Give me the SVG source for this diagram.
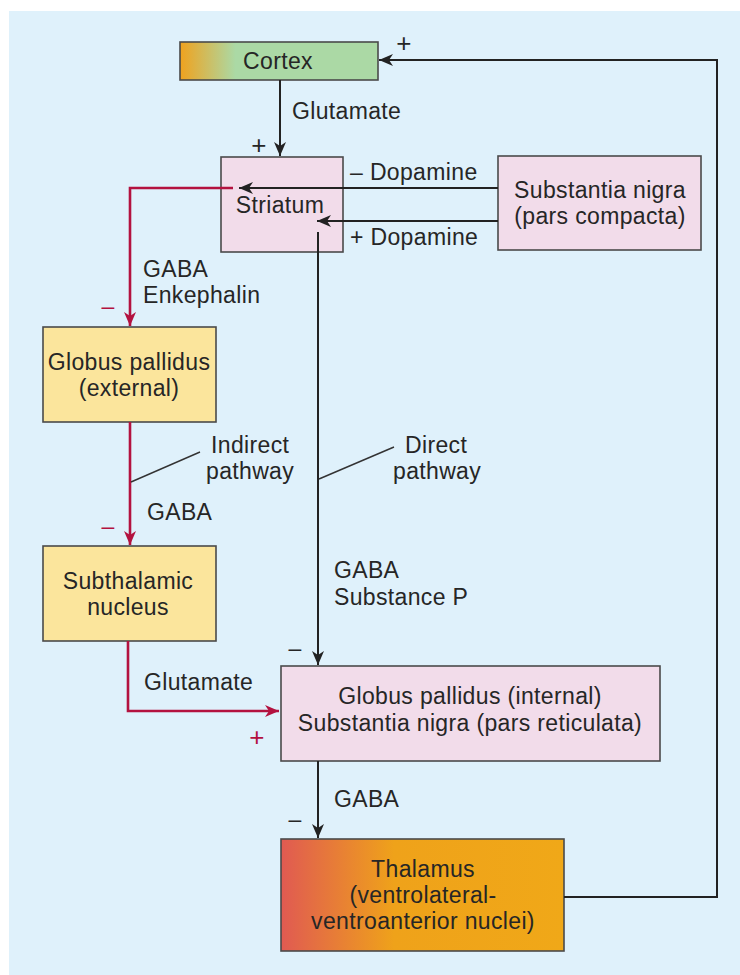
<svg xmlns="http://www.w3.org/2000/svg" width="740" height="975" viewBox="0 0 740 975">
<style>
text{font-family:"Liberation Sans",Arial,sans-serif;font-size:23px;fill:#262626;letter-spacing:0.35px}
.c{text-anchor:middle}
.box{stroke:#4a4a4a;stroke-width:1.6}
.pink{fill:#f2dcea}
.yel{fill:#fbe59c}
.k{fill:none;stroke:#222;stroke-width:2}
.r{fill:none;stroke:#b3123f;stroke-width:2.6}
.lbl{fill:none;stroke:#333;stroke-width:1.4}
.rs{fill:#b3123f}
.pl{font-size:26px}
</style>
<defs>
<linearGradient id="gc" x1="0" x2="1" y1="0" y2="0">
<stop offset="0" stop-color="#f0a21e"/>
<stop offset="0.28" stop-color="#abd9a5"/>
<stop offset="1" stop-color="#abd9a5"/>
</linearGradient>
<linearGradient id="gt" x1="0" x2="1" y1="0" y2="0">
<stop offset="0" stop-color="#e05a52"/>
<stop offset="0.4" stop-color="#efa21a"/>
<stop offset="1" stop-color="#f0a818"/>
</linearGradient>
<marker id="ak" markerUnits="userSpaceOnUse" markerWidth="16" markerHeight="14" refX="14" refY="6" orient="auto">
<path d="M0,0 L14,6 L0,12 L4,6 z" fill="#222"/>
</marker>
<marker id="ar" markerUnits="userSpaceOnUse" markerWidth="16" markerHeight="14" refX="14" refY="6" orient="auto">
<path d="M0,0 L14,6 L0,12 L4,6 z" fill="#b3123f"/>
</marker>
</defs>
<rect x="9" y="11" width="731" height="964" fill="#dff1fb"/>

<g id="cortex">
<rect class="box" x="180" y="42" width="198" height="38" fill="url(#gc)"/>
<text class="c" x="278" y="69">Cortex</text>
</g>
<g id="striatum">
<rect class="box pink" x="221" y="157" width="122" height="95"/>
<text class="c" x="280" y="213">Striatum</text>
</g>
<g id="snc">
<rect class="box pink" x="498" y="156" width="203" height="94"/>
<text class="c" x="600" y="198">Substantia nigra</text>
<text class="c" x="600" y="224">(pars compacta)</text>
</g>
<g id="gpe">
<rect class="box yel" x="43" y="327" width="173" height="95"/>
<text class="c" x="129" y="370">Globus pallidus</text>
<text class="c" x="129" y="396">(external)</text>
</g>
<g id="stn">
<rect class="box yel" x="43" y="546" width="173" height="95"/>
<text class="c" x="128" y="589">Subthalamic</text>
<text class="c" x="128" y="615">nucleus</text>
</g>
<g id="gpi">
<rect class="box pink" x="281" y="666" width="379" height="95"/>
<text class="c" x="470" y="704">Globus pallidus (internal)</text>
<text class="c" x="470" y="731">Substantia nigra (pars reticulata)</text>
</g>
<g id="thalamus">
<rect class="box" x="281" y="839" width="283" height="112" fill="url(#gt)"/>
<text class="c" x="423" y="877">Thalamus</text>
<text class="c" x="423" y="903">(ventrolateral-</text>
<text class="c" x="423" y="929">ventroanterior nuclei)</text>
</g>

<g id="connectors">
<path class="k" d="M280,80 L280,156" marker-end="url(#ak)"/>
<path class="k" d="M498,188 L239,188" marker-end="url(#ak)"/>
<path class="k" d="M498,221 L317,221" marker-end="url(#ak)"/>
<path class="r" d="M233,188 L130,188 L130,326" marker-end="url(#ar)"/>
<path class="r" d="M130,422 L130,545" marker-end="url(#ar)"/>
<path class="k" d="M318,232 L318,665" marker-end="url(#ak)"/>
<path class="r" d="M128,641 L128,711 L279,711" marker-end="url(#ar)"/>
<path class="k" d="M318,761 L318,838" marker-end="url(#ak)"/>
<path class="k" d="M564,897 L717,897 L717,60 L379,60" stroke-width="2.4" marker-end="url(#ak)"/>
<path class="lbl" d="M131,482 L200,452"/>
<path class="lbl" d="M319,479 L394,447"/>
</g>

<g id="labels">
<text x="292" y="119">Glutamate</text>
<text class="c pl" x="259" y="154">+</text>
<text class="c pl" x="404" y="52">+</text>
<text x="350" y="180">– Dopamine</text>
<text x="350" y="245">+ Dopamine</text>
<text x="143" y="277">GABA</text>
<text x="143" y="303">Enkephalin</text>
<text class="c rs" x="108" y="314">–</text>
<text x="211" y="453">Indirect</text>
<text x="206" y="479">pathway</text>
<text x="405" y="453">Direct</text>
<text x="393" y="479">pathway</text>
<text x="147" y="520">GABA</text>
<text class="c rs" x="108" y="534">–</text>
<text x="334" y="578">GABA</text>
<text x="334" y="605">Substance P</text>
<text x="144" y="690">Glutamate</text>
<text class="c rs pl" x="257" y="746">+</text>
<text class="c" x="295" y="656">–</text>
<text x="334" y="807">GABA</text>
<text class="c" x="295" y="827">–</text>
</g>
</svg>
